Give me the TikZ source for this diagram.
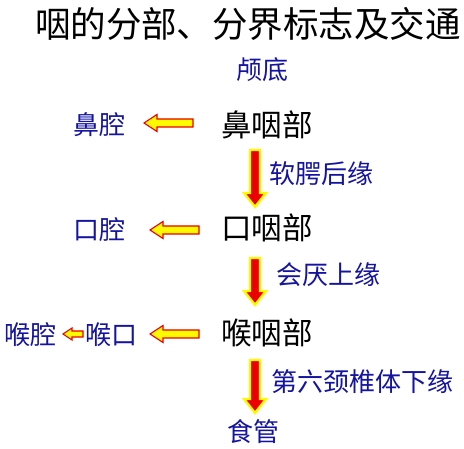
\documentclass[tikz,border=0pt]{standalone}
\usepackage{fontspec}
\setmainfont{Noto Sans CJK SC}
\usetikzlibrary{calc}
\definecolor{lblue}{RGB}{20,20,160}
\definecolor{ayel}{RGB}{255,250,0}
\definecolor{ared}{RGB}{235,0,0}
\tikzset{
  part/.style={inner sep=0pt, font=\fontsize{30.5}{30}\selectfont, text=black},
  lbl/.style={inner sep=0pt, font=\fontsize{26}{26}\selectfont, text=lblue},
  ttl/.style={inner sep=0pt, font=\fontsize{35.5}{36}\selectfont, text=black},
  downarr/.style={fill=ared, draw=ayel, line width=2.4pt, line join=miter},
  leftarr/.style={fill=ayel, draw=ared, line width=1.1pt, line join=miter}
}
% vertical block arrow from #1 (tail) down to #2 (tip)
\newcommand\blkdn[2]{%
  \path let \p1=(#1), \p2=(#2) in [downarr]
   (\x1-5pt,\y1) -- (\x1+5pt,\y1) -- (\x1+5pt,\y2+14pt) -- (\x1+11pt,\y2+14pt)
   -- (\x1,\y2) -- (\x1-11pt,\y2+14pt) -- (\x1-5pt,\y2+14pt) -- cycle;}
% horizontal block arrow from #1 (tail, right) to #2 (tip, left); #3 half body, #4 half head, #5 head length
\newcommand\blklf[5]{%
  \path let \p1=(#1), \p2=(#2) in [leftarr]
   (\x1,\y1+#3) -- (\x2+#5,\y1+#3) -- (\x2+#5,\y1+#4) -- (\x2,\y1)
   -- (\x2+#5,\y1-#4) -- (\x2+#5,\y1-#3) -- (\x1,\y1-#3) -- cycle;}
\begin{document}
\begin{tikzpicture}[x=1pt,y=1pt]
\useasboundingbox (0,0) rectangle (464,448);
\fill[white] (0,0) rectangle (464,448);
\node[ttl] (title) at (248,424) {咽的分部、分界标志及交通};
\node[lbl] (ludi) at (262,378) {颅底};
\node[part] (bi) at (267,323) {鼻咽部};
\node[lbl] (biq) at (99,323) {鼻腔};
\node[lbl] (rg) at (321,274) {软腭后缘};
\node[part] (kou) at (267,220) {口咽部};
\node[lbl] (kq) at (100,218) {口腔};
\node[lbl] (hy) at (328,173) {会厌上缘};
\node[part] (hou) at (267,115) {喉咽部};
\node[lbl] (hk) at (111,113) {喉口};
\node[lbl] (hq) at (31,113) {喉腔};
\node[lbl] (dl) at (362,66) {第六颈椎体下缘};
\node[lbl] (sg) at (253,16) {食管};
% down arrows
\coordinate (d1s) at ($(bi.center)+(-12,-25)$);
\coordinate (d1e) at ($(kou.center)+(-12,21)$);
\coordinate (d2s) at ($(kou.center)+(-12,-30)$);
\coordinate (d2e) at ($(hou.center)+(-12,28)$);
\coordinate (d3s) at ($(hou.center)+(-12,-27)$);
\coordinate (d3e) at ($(sg.center)+(2,19)$);
\blkdn{d1s}{d1e}
\blkdn{d2s}{d2e}
\blkdn{d3s}{d3e}
% left arrows
\coordinate (l1s) at ($(bi.center)+(-74,2)$);
\coordinate (l1e) at ($(biq.center)+(45,0)$);
\coordinate (l2s) at ($(kou.center)+(-68,-2)$);
\coordinate (l2e) at ($(kq.center)+(50,0)$);
\coordinate (l3s) at ($(hou.center)+(-68,-1)$);
\coordinate (l3e) at ($(hk.center)+(39,1)$);
\coordinate (l4s) at ($(hk.center)+(-28,1)$);
\coordinate (l4e) at ($(hq.center)+(32,1)$);
\blklf{l1s}{l1e}{4pt}{8.5pt}{13pt}
\blklf{l2s}{l2e}{4pt}{8.5pt}{13pt}
\blklf{l3s}{l3e}{4pt}{8.5pt}{13pt}
\blklf{l4s}{l4e}{3pt}{6pt}{9pt}
\end{tikzpicture}
\end{document}
